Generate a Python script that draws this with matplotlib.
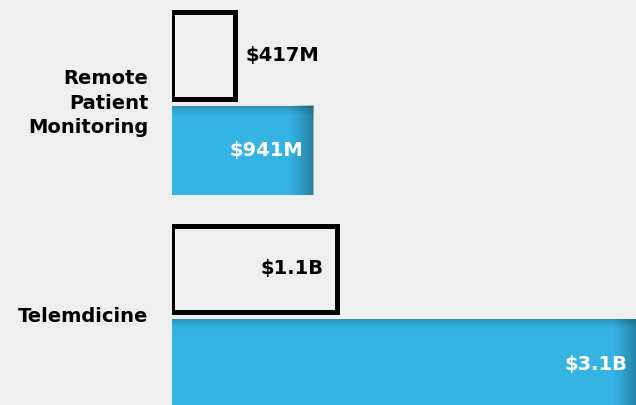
import matplotlib

matplotlib.use("Agg")
import matplotlib.pyplot as plt
import numpy as np

# values in billions of dollars
categories = ["Remote\nPatient\nMonitoring", "Telemdicine"]
prev_values = [0.417, 1.1]
curr_values = [0.941, 3.1]
prev_labels = ["$417M", "$1.1B"]
curr_labels = ["$941M", "$3.1B"]
prev_label_inside = [False, True]

BG = "#efefef"
BLUE = "#35b4e4"

plt.rcParams["font.family"] = ["DejaVu Sans"]

fig = plt.figure(figsize=(6.36, 4.05), dpi=100, facecolor=BG)
ax = fig.add_axes([172 / 636, 0, 464 / 636, 1])
ax.set_facecolor(BG)

y = np.arange(len(categories))
h = 0.405
off = 0.223
fs = 14

ax.barh(y - off, prev_values, height=h, facecolor="none", edgecolor="black",
        linewidth=3.6, zorder=3)
ax.barh(y + off, curr_values, height=0.418, color=BLUE, zorder=2)

# shading along the top and right edges of the blue bars
ramp_x = np.linspace(0, 1, 64) ** 1.2
ramp_y = np.linspace(1, 0, 32) ** 1.5
for yi, v in zip(y, curr_values):
    top, bot = yi + off - 0.209, yi + off + 0.209
    shade = np.zeros((1, 64, 4))
    shade[..., 3] = 0.3 * ramp_x
    ax.imshow(shade, extent=(v - 0.17, v, bot, top), aspect="auto", zorder=2.5,
              interpolation="bilinear")
    shade = np.zeros((32, 1, 4))
    shade[..., 3] = (0.2 * ramp_y)[:, None]
    ax.imshow(shade, extent=(0, v, top + 0.05, top), aspect="auto", zorder=2.5,
              interpolation="bilinear")

for yi, v, lab, inside in zip(y, prev_values, prev_labels, prev_label_inside):
    if inside:
        ax.annotate(lab, (v, yi - off), xytext=(-10, 0), textcoords="offset points",
                    ha="right", va="center", fontsize=fs, fontweight="bold", zorder=4)
    else:
        ax.annotate(lab, (v, yi - off), xytext=(8, 0), textcoords="offset points",
                    ha="left", va="center", fontsize=fs, fontweight="bold", zorder=4)

for yi, v, lab in zip(y, curr_values, curr_labels):
    ax.annotate(lab, (v, yi + off), xytext=(-7, 0), textcoords="offset points",
                ha="right", va="center", fontsize=fs, fontweight="bold",
                color="white", zorder=4, annotation_clip=False)

for yi, cat in zip(y, categories):
    ax.annotate(cat, (0, yi), xytext=(-17, 0), textcoords="offset points",
                ha="right", va="center", fontsize=fs, fontweight="bold",
                linespacing=1.35, annotation_clip=False)

ax.set_xlim(0, 3.093)
ax.set_ylim(1.415, -0.484)
ax.axis("off")

fig.savefig("out.png", dpi=100, facecolor=BG)
